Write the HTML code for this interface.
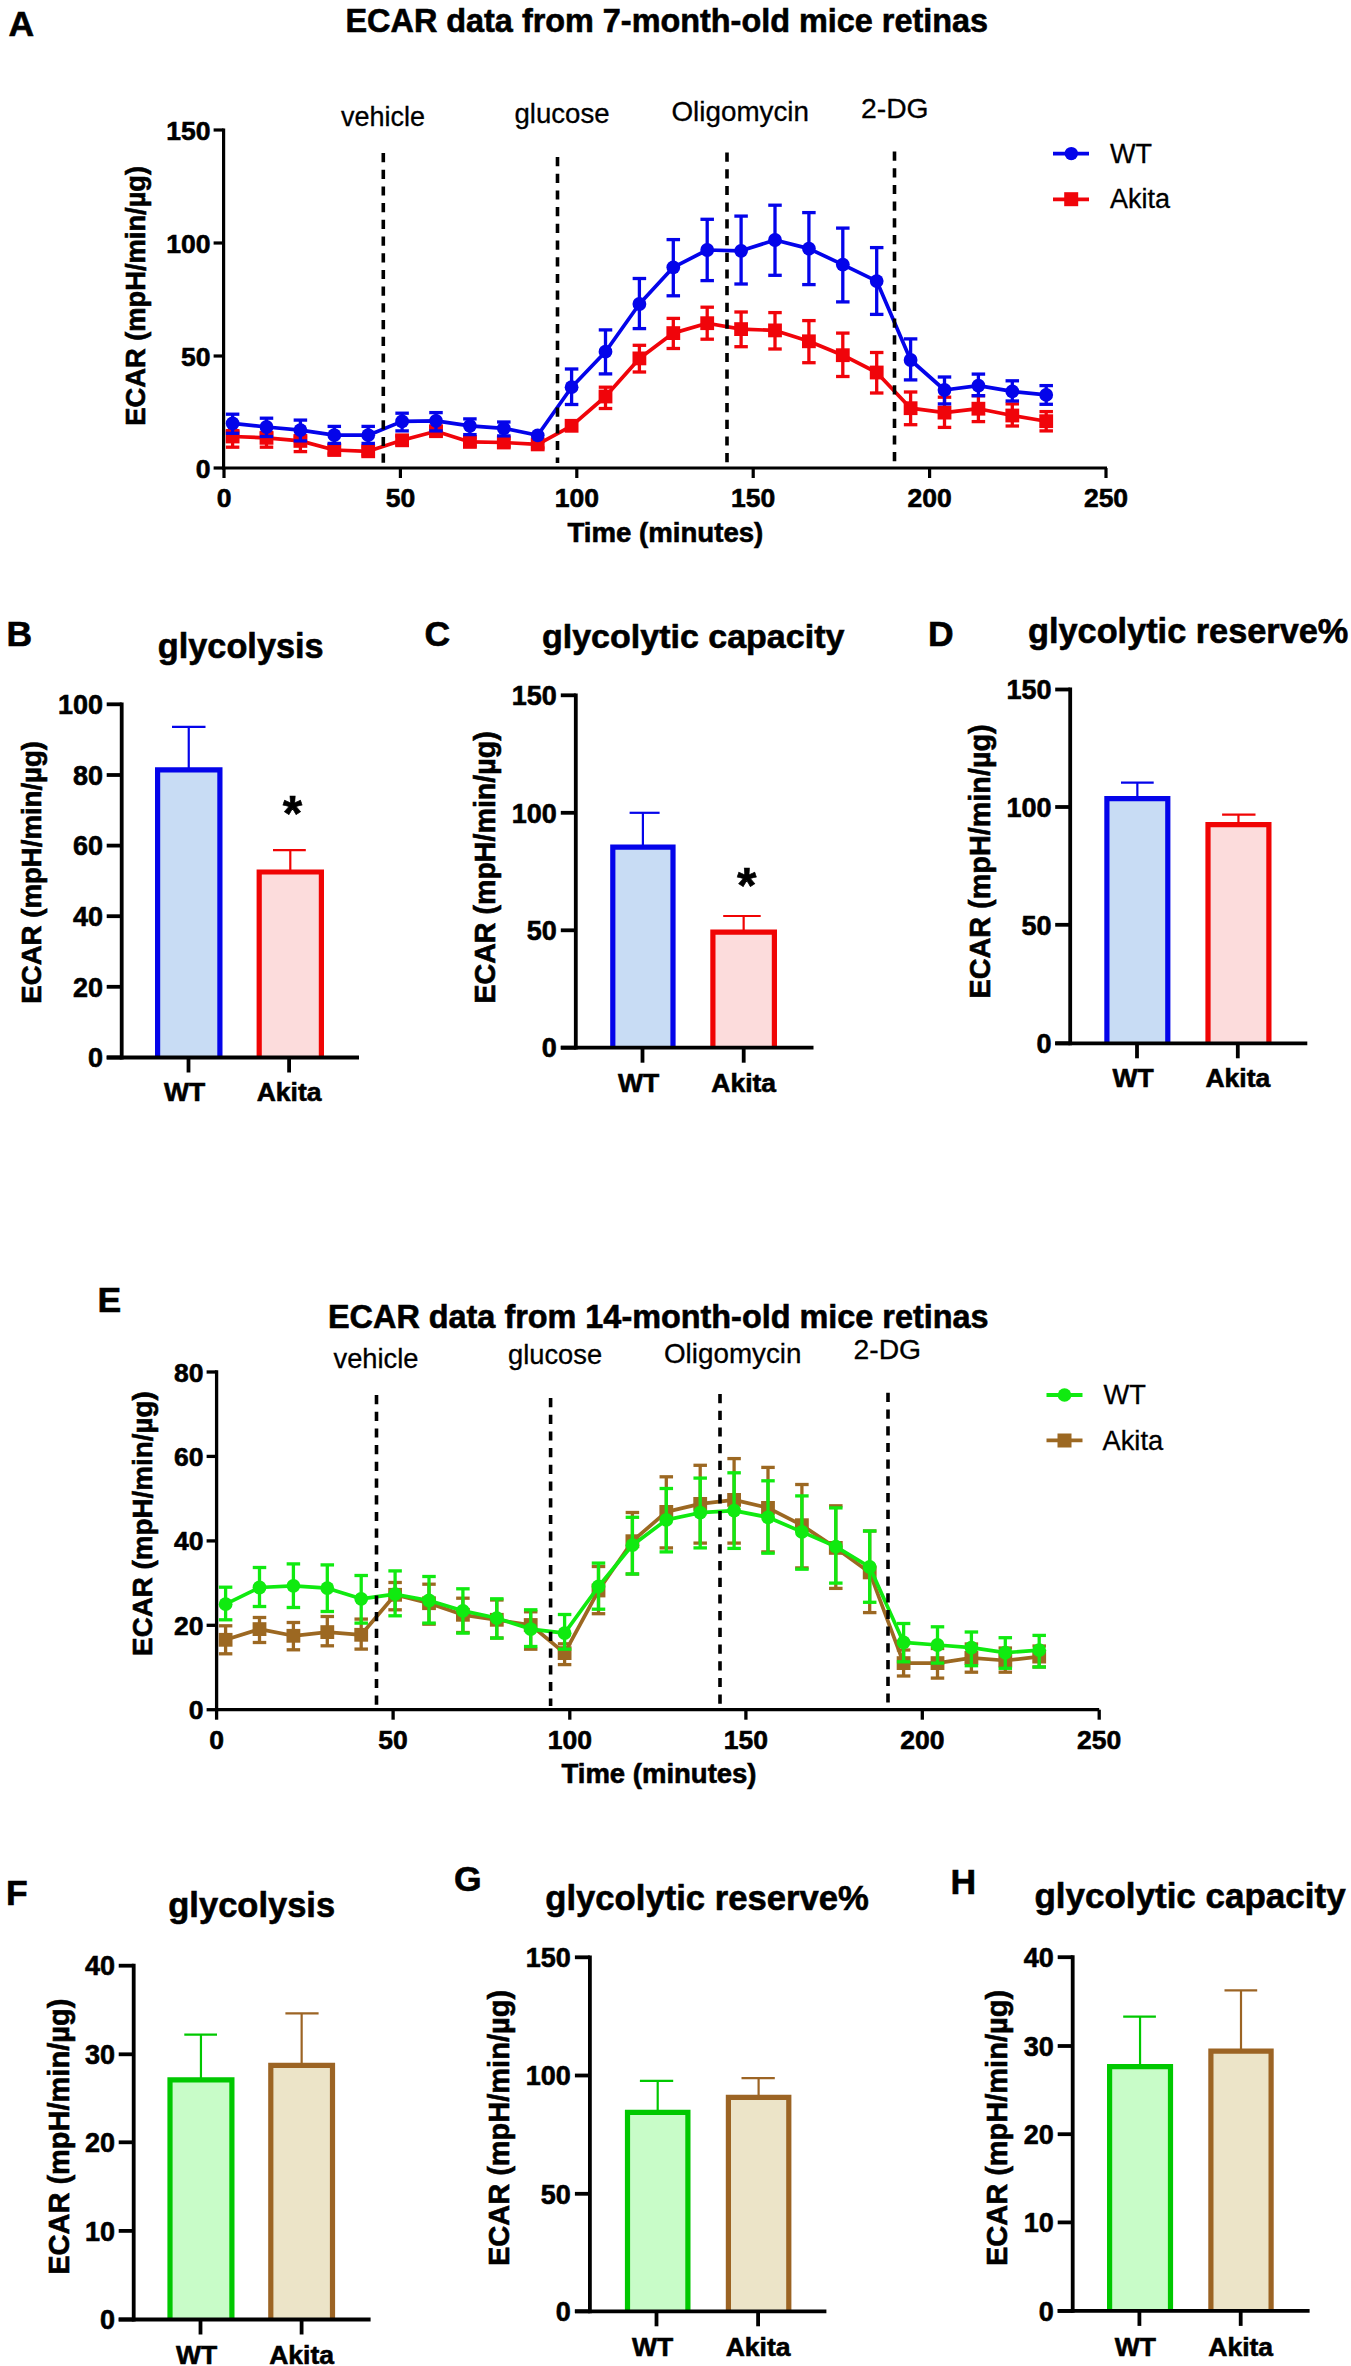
<!DOCTYPE html><html><head><meta charset="utf-8"><style>html,body{margin:0;padding:0;background:#fff;width:1351px;height:2366px;overflow:hidden}svg{display:block}text{font-family:"Liberation Sans",sans-serif}</style></head><body>
<svg width="1351" height="2366" viewBox="0 0 1351 2366">
<rect width="1351" height="2366" fill="#fff"/>
<text x="8.5" y="36" font-size="35.5" font-weight="bold" text-anchor="start" fill="#000" stroke="#000" stroke-width="0.6" >A</text>
<text x="345.5" y="32.3" font-size="32.4" font-weight="bold" text-anchor="start" fill="#000" stroke="#000" stroke-width="0.6" >ECAR data from 7-month-old mice retinas</text>
<line x1="223.6" y1="128.4" x2="223.6" y2="469.6" stroke="#000" stroke-width="3.2" />
<line x1="222.0" y1="468" x2="1107" y2="468" stroke="#000" stroke-width="3.2" />
<line x1="213.6" y1="130" x2="223.6" y2="130" stroke="#000" stroke-width="3.2" />
<line x1="213.6" y1="243" x2="223.6" y2="243" stroke="#000" stroke-width="3.2" />
<line x1="213.6" y1="356" x2="223.6" y2="356" stroke="#000" stroke-width="3.2" />
<line x1="213.6" y1="468" x2="223.6" y2="468" stroke="#000" stroke-width="3.2" />
<line x1="224" y1="468" x2="224" y2="478" stroke="#000" stroke-width="3.2" />
<line x1="400.4" y1="468" x2="400.4" y2="478" stroke="#000" stroke-width="3.2" />
<line x1="576.8" y1="468" x2="576.8" y2="478" stroke="#000" stroke-width="3.2" />
<line x1="753.2" y1="468" x2="753.2" y2="478" stroke="#000" stroke-width="3.2" />
<line x1="929.6" y1="468" x2="929.6" y2="478" stroke="#000" stroke-width="3.2" />
<line x1="1106" y1="468" x2="1106" y2="478" stroke="#000" stroke-width="3.2" />
<text x="210.5" y="139.5" font-size="26.5" font-weight="bold" text-anchor="end" fill="#000" stroke="#000" stroke-width="0.6" >150</text>
<text x="210.5" y="252.5" font-size="26.5" font-weight="bold" text-anchor="end" fill="#000" stroke="#000" stroke-width="0.6" >100</text>
<text x="210.5" y="365.5" font-size="26.5" font-weight="bold" text-anchor="end" fill="#000" stroke="#000" stroke-width="0.6" >50</text>
<text x="210.5" y="477.5" font-size="26.5" font-weight="bold" text-anchor="end" fill="#000" stroke="#000" stroke-width="0.6" >0</text>
<text x="224" y="507" font-size="26.5" font-weight="bold" text-anchor="middle" fill="#000" stroke="#000" stroke-width="0.6" >0</text>
<text x="400.4" y="507" font-size="26.5" font-weight="bold" text-anchor="middle" fill="#000" stroke="#000" stroke-width="0.6" >50</text>
<text x="576.8" y="507" font-size="26.5" font-weight="bold" text-anchor="middle" fill="#000" stroke="#000" stroke-width="0.6" >100</text>
<text x="753.2" y="507" font-size="26.5" font-weight="bold" text-anchor="middle" fill="#000" stroke="#000" stroke-width="0.6" >150</text>
<text x="929.6" y="507" font-size="26.5" font-weight="bold" text-anchor="middle" fill="#000" stroke="#000" stroke-width="0.6" >200</text>
<text x="1106" y="507" font-size="26.5" font-weight="bold" text-anchor="middle" fill="#000" stroke="#000" stroke-width="0.6" >250</text>
<text x="0" y="0" font-size="27.3" font-weight="bold" text-anchor="middle" stroke="#000" stroke-width="0.6" transform="translate(145,295.8) rotate(-90)">ECAR (mpH/min/µg)</text>
<text x="665.4" y="542" font-size="27.6" font-weight="bold" text-anchor="middle" fill="#000" stroke="#000" stroke-width="0.6" >Time (minutes)</text>
<text x="341" y="126" font-size="27" font-weight="normal" text-anchor="start" fill="#000" stroke="#000" stroke-width="0.3" >vehicle</text>
<text x="514.5" y="122.5" font-size="27.6" font-weight="normal" text-anchor="start" fill="#000" stroke="#000" stroke-width="0.3" >glucose</text>
<text x="671.5" y="121.3" font-size="27.8" font-weight="normal" text-anchor="start" fill="#000" stroke="#000" stroke-width="0.3" >Oligomycin</text>
<text x="861" y="117.8" font-size="28.3" font-weight="normal" text-anchor="start" fill="#000" stroke="#000" stroke-width="0.3" >2-DG</text>
<line x1="232.6" y1="430.7" x2="232.6" y2="447.2" stroke="#f0040a" stroke-width="3.3" />
<line x1="225.85" y1="430.7" x2="239.35" y2="430.7" stroke="#f0040a" stroke-width="3.3" />
<line x1="225.85" y1="447.2" x2="239.35" y2="447.2" stroke="#f0040a" stroke-width="3.3" />
<line x1="266.5" y1="433.3" x2="266.5" y2="447.2" stroke="#f0040a" stroke-width="3.3" />
<line x1="259.75" y1="433.3" x2="273.25" y2="433.3" stroke="#f0040a" stroke-width="3.3" />
<line x1="259.75" y1="447.2" x2="273.25" y2="447.2" stroke="#f0040a" stroke-width="3.3" />
<line x1="300.4" y1="437.1" x2="300.4" y2="451.6" stroke="#f0040a" stroke-width="3.3" />
<line x1="293.65" y1="437.1" x2="307.15" y2="437.1" stroke="#f0040a" stroke-width="3.3" />
<line x1="293.65" y1="451.6" x2="307.15" y2="451.6" stroke="#f0040a" stroke-width="3.3" />
<line x1="334.29999999999995" y1="446" x2="334.29999999999995" y2="454" stroke="#f0040a" stroke-width="3.3" />
<line x1="327.54999999999995" y1="446" x2="341.04999999999995" y2="446" stroke="#f0040a" stroke-width="3.3" />
<line x1="327.54999999999995" y1="454" x2="341.04999999999995" y2="454" stroke="#f0040a" stroke-width="3.3" />
<line x1="368.2" y1="447" x2="368.2" y2="455" stroke="#f0040a" stroke-width="3.3" />
<line x1="361.45" y1="447" x2="374.95" y2="447" stroke="#f0040a" stroke-width="3.3" />
<line x1="361.45" y1="455" x2="374.95" y2="455" stroke="#f0040a" stroke-width="3.3" />
<line x1="402.1" y1="436" x2="402.1" y2="444.5" stroke="#f0040a" stroke-width="3.3" />
<line x1="395.35" y1="436" x2="408.85" y2="436" stroke="#f0040a" stroke-width="3.3" />
<line x1="395.35" y1="444.5" x2="408.85" y2="444.5" stroke="#f0040a" stroke-width="3.3" />
<line x1="436.0" y1="427" x2="436.0" y2="435.5" stroke="#f0040a" stroke-width="3.3" />
<line x1="429.25" y1="427" x2="442.75" y2="427" stroke="#f0040a" stroke-width="3.3" />
<line x1="429.25" y1="435.5" x2="442.75" y2="435.5" stroke="#f0040a" stroke-width="3.3" />
<line x1="469.9" y1="438" x2="469.9" y2="446" stroke="#f0040a" stroke-width="3.3" />
<line x1="463.15" y1="438" x2="476.65" y2="438" stroke="#f0040a" stroke-width="3.3" />
<line x1="463.15" y1="446" x2="476.65" y2="446" stroke="#f0040a" stroke-width="3.3" />
<line x1="503.79999999999995" y1="438.5" x2="503.79999999999995" y2="446.5" stroke="#f0040a" stroke-width="3.3" />
<line x1="497.04999999999995" y1="438.5" x2="510.54999999999995" y2="438.5" stroke="#f0040a" stroke-width="3.3" />
<line x1="497.04999999999995" y1="446.5" x2="510.54999999999995" y2="446.5" stroke="#f0040a" stroke-width="3.3" />
<line x1="537.6999999999999" y1="441" x2="537.6999999999999" y2="448" stroke="#f0040a" stroke-width="3.3" />
<line x1="530.9499999999999" y1="441" x2="544.4499999999999" y2="441" stroke="#f0040a" stroke-width="3.3" />
<line x1="530.9499999999999" y1="448" x2="544.4499999999999" y2="448" stroke="#f0040a" stroke-width="3.3" />
<line x1="605.5" y1="387.2" x2="605.5" y2="408.5" stroke="#f0040a" stroke-width="3.3" />
<line x1="598.75" y1="387.2" x2="612.25" y2="387.2" stroke="#f0040a" stroke-width="3.3" />
<line x1="598.75" y1="408.5" x2="612.25" y2="408.5" stroke="#f0040a" stroke-width="3.3" />
<line x1="639.4" y1="345.3" x2="639.4" y2="372" stroke="#f0040a" stroke-width="3.3" />
<line x1="632.65" y1="345.3" x2="646.15" y2="345.3" stroke="#f0040a" stroke-width="3.3" />
<line x1="632.65" y1="372" x2="646.15" y2="372" stroke="#f0040a" stroke-width="3.3" />
<line x1="673.3" y1="318.4" x2="673.3" y2="348.5" stroke="#f0040a" stroke-width="3.3" />
<line x1="666.55" y1="318.4" x2="680.05" y2="318.4" stroke="#f0040a" stroke-width="3.3" />
<line x1="666.55" y1="348.5" x2="680.05" y2="348.5" stroke="#f0040a" stroke-width="3.3" />
<line x1="707.1999999999999" y1="307.2" x2="707.1999999999999" y2="339.2" stroke="#f0040a" stroke-width="3.3" />
<line x1="700.4499999999999" y1="307.2" x2="713.9499999999999" y2="307.2" stroke="#f0040a" stroke-width="3.3" />
<line x1="700.4499999999999" y1="339.2" x2="713.9499999999999" y2="339.2" stroke="#f0040a" stroke-width="3.3" />
<line x1="741.1" y1="312" x2="741.1" y2="346.7" stroke="#f0040a" stroke-width="3.3" />
<line x1="734.35" y1="312" x2="747.85" y2="312" stroke="#f0040a" stroke-width="3.3" />
<line x1="734.35" y1="346.7" x2="747.85" y2="346.7" stroke="#f0040a" stroke-width="3.3" />
<line x1="775.0" y1="312.6" x2="775.0" y2="349" stroke="#f0040a" stroke-width="3.3" />
<line x1="768.25" y1="312.6" x2="781.75" y2="312.6" stroke="#f0040a" stroke-width="3.3" />
<line x1="768.25" y1="349" x2="781.75" y2="349" stroke="#f0040a" stroke-width="3.3" />
<line x1="808.9" y1="320.6" x2="808.9" y2="362.7" stroke="#f0040a" stroke-width="3.3" />
<line x1="802.15" y1="320.6" x2="815.65" y2="320.6" stroke="#f0040a" stroke-width="3.3" />
<line x1="802.15" y1="362.7" x2="815.65" y2="362.7" stroke="#f0040a" stroke-width="3.3" />
<line x1="842.8" y1="333.1" x2="842.8" y2="376.5" stroke="#f0040a" stroke-width="3.3" />
<line x1="836.05" y1="333.1" x2="849.55" y2="333.1" stroke="#f0040a" stroke-width="3.3" />
<line x1="836.05" y1="376.5" x2="849.55" y2="376.5" stroke="#f0040a" stroke-width="3.3" />
<line x1="876.7" y1="352.5" x2="876.7" y2="393" stroke="#f0040a" stroke-width="3.3" />
<line x1="869.95" y1="352.5" x2="883.45" y2="352.5" stroke="#f0040a" stroke-width="3.3" />
<line x1="869.95" y1="393" x2="883.45" y2="393" stroke="#f0040a" stroke-width="3.3" />
<line x1="910.6" y1="392" x2="910.6" y2="424.7" stroke="#f0040a" stroke-width="3.3" />
<line x1="903.85" y1="392" x2="917.35" y2="392" stroke="#f0040a" stroke-width="3.3" />
<line x1="903.85" y1="424.7" x2="917.35" y2="424.7" stroke="#f0040a" stroke-width="3.3" />
<line x1="944.5" y1="397.2" x2="944.5" y2="427.4" stroke="#f0040a" stroke-width="3.3" />
<line x1="937.75" y1="397.2" x2="951.25" y2="397.2" stroke="#f0040a" stroke-width="3.3" />
<line x1="937.75" y1="427.4" x2="951.25" y2="427.4" stroke="#f0040a" stroke-width="3.3" />
<line x1="978.4" y1="395.7" x2="978.4" y2="421.6" stroke="#f0040a" stroke-width="3.3" />
<line x1="971.65" y1="395.7" x2="985.15" y2="395.7" stroke="#f0040a" stroke-width="3.3" />
<line x1="971.65" y1="421.6" x2="985.15" y2="421.6" stroke="#f0040a" stroke-width="3.3" />
<line x1="1012.3" y1="403.9" x2="1012.3" y2="426" stroke="#f0040a" stroke-width="3.3" />
<line x1="1005.55" y1="403.9" x2="1019.05" y2="403.9" stroke="#f0040a" stroke-width="3.3" />
<line x1="1005.55" y1="426" x2="1019.05" y2="426" stroke="#f0040a" stroke-width="3.3" />
<line x1="1046.1999999999998" y1="411.6" x2="1046.1999999999998" y2="430.9" stroke="#f0040a" stroke-width="3.3" />
<line x1="1039.4499999999998" y1="411.6" x2="1052.9499999999998" y2="411.6" stroke="#f0040a" stroke-width="3.3" />
<line x1="1039.4499999999998" y1="430.9" x2="1052.9499999999998" y2="430.9" stroke="#f0040a" stroke-width="3.3" />
<polyline points="232.6,436.5 266.5,437.8 300.4,440.9 334.3,450.0 368.2,451.3 402.1,440.3 436.0,431.2 469.9,441.9 503.8,442.5 537.7,444.4 571.6,425.8 605.5,396.5 639.4,358.4 673.3,333.1 707.2,323.2 741.1,329.1 775.0,330.4 808.9,341.3 842.8,355.2 876.7,372.5 910.6,408.2 944.5,412.6 978.4,408.7 1012.3,415.5 1046.2,421.2" fill="none" stroke="#f0040a" stroke-width="3.7" stroke-linejoin="round"/>
<rect x="225.7" y="429.6" width="13.8" height="13.8" fill="#f0040a"/>
<rect x="259.6" y="430.9" width="13.8" height="13.8" fill="#f0040a"/>
<rect x="293.5" y="434.0" width="13.8" height="13.8" fill="#f0040a"/>
<rect x="327.4" y="443.1" width="13.8" height="13.8" fill="#f0040a"/>
<rect x="361.3" y="444.4" width="13.8" height="13.8" fill="#f0040a"/>
<rect x="395.2" y="433.4" width="13.8" height="13.8" fill="#f0040a"/>
<rect x="429.1" y="424.3" width="13.8" height="13.8" fill="#f0040a"/>
<rect x="463.0" y="435.0" width="13.8" height="13.8" fill="#f0040a"/>
<rect x="496.9" y="435.6" width="13.8" height="13.8" fill="#f0040a"/>
<rect x="530.8" y="437.5" width="13.8" height="13.8" fill="#f0040a"/>
<rect x="564.7" y="418.9" width="13.8" height="13.8" fill="#f0040a"/>
<rect x="598.6" y="389.6" width="13.8" height="13.8" fill="#f0040a"/>
<rect x="632.5" y="351.5" width="13.8" height="13.8" fill="#f0040a"/>
<rect x="666.4" y="326.2" width="13.8" height="13.8" fill="#f0040a"/>
<rect x="700.3" y="316.3" width="13.8" height="13.8" fill="#f0040a"/>
<rect x="734.2" y="322.2" width="13.8" height="13.8" fill="#f0040a"/>
<rect x="768.1" y="323.5" width="13.8" height="13.8" fill="#f0040a"/>
<rect x="802.0" y="334.4" width="13.8" height="13.8" fill="#f0040a"/>
<rect x="835.9" y="348.3" width="13.8" height="13.8" fill="#f0040a"/>
<rect x="869.8" y="365.6" width="13.8" height="13.8" fill="#f0040a"/>
<rect x="903.7" y="401.3" width="13.8" height="13.8" fill="#f0040a"/>
<rect x="937.6" y="405.7" width="13.8" height="13.8" fill="#f0040a"/>
<rect x="971.5" y="401.8" width="13.8" height="13.8" fill="#f0040a"/>
<rect x="1005.4" y="408.6" width="13.8" height="13.8" fill="#f0040a"/>
<rect x="1039.3" y="414.3" width="13.8" height="13.8" fill="#f0040a"/>
<line x1="232.6" y1="414.2" x2="232.6" y2="433.3" stroke="#0404ea" stroke-width="3.3" />
<line x1="225.85" y1="414.2" x2="239.35" y2="414.2" stroke="#0404ea" stroke-width="3.3" />
<line x1="225.85" y1="433.3" x2="239.35" y2="433.3" stroke="#0404ea" stroke-width="3.3" />
<line x1="266.5" y1="418.2" x2="266.5" y2="436.5" stroke="#0404ea" stroke-width="3.3" />
<line x1="259.75" y1="418.2" x2="273.25" y2="418.2" stroke="#0404ea" stroke-width="3.3" />
<line x1="259.75" y1="436.5" x2="273.25" y2="436.5" stroke="#0404ea" stroke-width="3.3" />
<line x1="300.4" y1="420.1" x2="300.4" y2="440.9" stroke="#0404ea" stroke-width="3.3" />
<line x1="293.65" y1="420.1" x2="307.15" y2="420.1" stroke="#0404ea" stroke-width="3.3" />
<line x1="293.65" y1="440.9" x2="307.15" y2="440.9" stroke="#0404ea" stroke-width="3.3" />
<line x1="334.29999999999995" y1="426.4" x2="334.29999999999995" y2="443.4" stroke="#0404ea" stroke-width="3.3" />
<line x1="327.54999999999995" y1="426.4" x2="341.04999999999995" y2="426.4" stroke="#0404ea" stroke-width="3.3" />
<line x1="327.54999999999995" y1="443.4" x2="341.04999999999995" y2="443.4" stroke="#0404ea" stroke-width="3.3" />
<line x1="368.2" y1="426.4" x2="368.2" y2="443.4" stroke="#0404ea" stroke-width="3.3" />
<line x1="361.45" y1="426.4" x2="374.95" y2="426.4" stroke="#0404ea" stroke-width="3.3" />
<line x1="361.45" y1="443.4" x2="374.95" y2="443.4" stroke="#0404ea" stroke-width="3.3" />
<line x1="402.1" y1="413.2" x2="402.1" y2="430.9" stroke="#0404ea" stroke-width="3.3" />
<line x1="395.35" y1="413.2" x2="408.85" y2="413.2" stroke="#0404ea" stroke-width="3.3" />
<line x1="395.35" y1="430.9" x2="408.85" y2="430.9" stroke="#0404ea" stroke-width="3.3" />
<line x1="436.0" y1="412.6" x2="436.0" y2="430.9" stroke="#0404ea" stroke-width="3.3" />
<line x1="429.25" y1="412.6" x2="442.75" y2="412.6" stroke="#0404ea" stroke-width="3.3" />
<line x1="429.25" y1="430.9" x2="442.75" y2="430.9" stroke="#0404ea" stroke-width="3.3" />
<line x1="469.9" y1="418.9" x2="469.9" y2="434.6" stroke="#0404ea" stroke-width="3.3" />
<line x1="463.15" y1="418.9" x2="476.65" y2="418.9" stroke="#0404ea" stroke-width="3.3" />
<line x1="463.15" y1="434.6" x2="476.65" y2="434.6" stroke="#0404ea" stroke-width="3.3" />
<line x1="503.79999999999995" y1="422" x2="503.79999999999995" y2="435.9" stroke="#0404ea" stroke-width="3.3" />
<line x1="497.04999999999995" y1="422" x2="510.54999999999995" y2="422" stroke="#0404ea" stroke-width="3.3" />
<line x1="497.04999999999995" y1="435.9" x2="510.54999999999995" y2="435.9" stroke="#0404ea" stroke-width="3.3" />
<line x1="571.6" y1="369" x2="571.6" y2="404.5" stroke="#0404ea" stroke-width="3.3" />
<line x1="564.85" y1="369" x2="578.35" y2="369" stroke="#0404ea" stroke-width="3.3" />
<line x1="564.85" y1="404.5" x2="578.35" y2="404.5" stroke="#0404ea" stroke-width="3.3" />
<line x1="605.5" y1="329.9" x2="605.5" y2="373.9" stroke="#0404ea" stroke-width="3.3" />
<line x1="598.75" y1="329.9" x2="612.25" y2="329.9" stroke="#0404ea" stroke-width="3.3" />
<line x1="598.75" y1="373.9" x2="612.25" y2="373.9" stroke="#0404ea" stroke-width="3.3" />
<line x1="639.4" y1="278.5" x2="639.4" y2="328.6" stroke="#0404ea" stroke-width="3.3" />
<line x1="632.65" y1="278.5" x2="646.15" y2="278.5" stroke="#0404ea" stroke-width="3.3" />
<line x1="632.65" y1="328.6" x2="646.15" y2="328.6" stroke="#0404ea" stroke-width="3.3" />
<line x1="673.3" y1="239.6" x2="673.3" y2="295.8" stroke="#0404ea" stroke-width="3.3" />
<line x1="666.55" y1="239.6" x2="680.05" y2="239.6" stroke="#0404ea" stroke-width="3.3" />
<line x1="666.55" y1="295.8" x2="680.05" y2="295.8" stroke="#0404ea" stroke-width="3.3" />
<line x1="707.1999999999999" y1="219.3" x2="707.1999999999999" y2="280.6" stroke="#0404ea" stroke-width="3.3" />
<line x1="700.4499999999999" y1="219.3" x2="713.9499999999999" y2="219.3" stroke="#0404ea" stroke-width="3.3" />
<line x1="700.4499999999999" y1="280.6" x2="713.9499999999999" y2="280.6" stroke="#0404ea" stroke-width="3.3" />
<line x1="741.1" y1="216.1" x2="741.1" y2="284" stroke="#0404ea" stroke-width="3.3" />
<line x1="734.35" y1="216.1" x2="747.85" y2="216.1" stroke="#0404ea" stroke-width="3.3" />
<line x1="734.35" y1="284" x2="747.85" y2="284" stroke="#0404ea" stroke-width="3.3" />
<line x1="775.0" y1="205.2" x2="775.0" y2="275.3" stroke="#0404ea" stroke-width="3.3" />
<line x1="768.25" y1="205.2" x2="781.75" y2="205.2" stroke="#0404ea" stroke-width="3.3" />
<line x1="768.25" y1="275.3" x2="781.75" y2="275.3" stroke="#0404ea" stroke-width="3.3" />
<line x1="808.9" y1="212.6" x2="808.9" y2="284.6" stroke="#0404ea" stroke-width="3.3" />
<line x1="802.15" y1="212.6" x2="815.65" y2="212.6" stroke="#0404ea" stroke-width="3.3" />
<line x1="802.15" y1="284.6" x2="815.65" y2="284.6" stroke="#0404ea" stroke-width="3.3" />
<line x1="842.8" y1="228.1" x2="842.8" y2="301.9" stroke="#0404ea" stroke-width="3.3" />
<line x1="836.05" y1="228.1" x2="849.55" y2="228.1" stroke="#0404ea" stroke-width="3.3" />
<line x1="836.05" y1="301.9" x2="849.55" y2="301.9" stroke="#0404ea" stroke-width="3.3" />
<line x1="876.7" y1="247.6" x2="876.7" y2="314.4" stroke="#0404ea" stroke-width="3.3" />
<line x1="869.95" y1="247.6" x2="883.45" y2="247.6" stroke="#0404ea" stroke-width="3.3" />
<line x1="869.95" y1="314.4" x2="883.45" y2="314.4" stroke="#0404ea" stroke-width="3.3" />
<line x1="910.6" y1="338.9" x2="910.6" y2="379.9" stroke="#0404ea" stroke-width="3.3" />
<line x1="903.85" y1="338.9" x2="917.35" y2="338.9" stroke="#0404ea" stroke-width="3.3" />
<line x1="903.85" y1="379.9" x2="917.35" y2="379.9" stroke="#0404ea" stroke-width="3.3" />
<line x1="944.5" y1="377" x2="944.5" y2="403.9" stroke="#0404ea" stroke-width="3.3" />
<line x1="937.75" y1="377" x2="951.25" y2="377" stroke="#0404ea" stroke-width="3.3" />
<line x1="937.75" y1="403.9" x2="951.25" y2="403.9" stroke="#0404ea" stroke-width="3.3" />
<line x1="978.4" y1="374.1" x2="978.4" y2="395.7" stroke="#0404ea" stroke-width="3.3" />
<line x1="971.65" y1="374.1" x2="985.15" y2="374.1" stroke="#0404ea" stroke-width="3.3" />
<line x1="971.65" y1="395.7" x2="985.15" y2="395.7" stroke="#0404ea" stroke-width="3.3" />
<line x1="1012.3" y1="380.8" x2="1012.3" y2="401" stroke="#0404ea" stroke-width="3.3" />
<line x1="1005.55" y1="380.8" x2="1019.05" y2="380.8" stroke="#0404ea" stroke-width="3.3" />
<line x1="1005.55" y1="401" x2="1019.05" y2="401" stroke="#0404ea" stroke-width="3.3" />
<line x1="1046.1999999999998" y1="385.6" x2="1046.1999999999998" y2="404.3" stroke="#0404ea" stroke-width="3.3" />
<line x1="1039.4499999999998" y1="385.6" x2="1052.9499999999998" y2="385.6" stroke="#0404ea" stroke-width="3.3" />
<line x1="1039.4499999999998" y1="404.3" x2="1052.9499999999998" y2="404.3" stroke="#0404ea" stroke-width="3.3" />
<polyline points="232.6,423.3 266.5,427.0 300.4,430.2 334.3,435.2 368.2,435.2 402.1,421.4 436.0,420.8 469.9,425.8 503.8,428.3 537.7,435.3 571.6,387.2 605.5,351.7 639.4,304.0 673.3,267.3 707.2,250.0 741.1,250.8 775.0,240.0 808.9,248.6 842.8,264.6 876.7,281.1 910.6,360.0 944.5,390.0 978.4,385.6 1012.3,391.4 1046.2,394.9" fill="none" stroke="#0404ea" stroke-width="3.7" stroke-linejoin="round"/>
<circle cx="232.6" cy="423.3" r="6.9" fill="#0404ea"/>
<circle cx="266.5" cy="427.0" r="6.9" fill="#0404ea"/>
<circle cx="300.4" cy="430.2" r="6.9" fill="#0404ea"/>
<circle cx="334.3" cy="435.2" r="6.9" fill="#0404ea"/>
<circle cx="368.2" cy="435.2" r="6.9" fill="#0404ea"/>
<circle cx="402.1" cy="421.4" r="6.9" fill="#0404ea"/>
<circle cx="436.0" cy="420.8" r="6.9" fill="#0404ea"/>
<circle cx="469.9" cy="425.8" r="6.9" fill="#0404ea"/>
<circle cx="503.8" cy="428.3" r="6.9" fill="#0404ea"/>
<circle cx="537.7" cy="435.3" r="6.9" fill="#0404ea"/>
<circle cx="571.6" cy="387.2" r="6.9" fill="#0404ea"/>
<circle cx="605.5" cy="351.7" r="6.9" fill="#0404ea"/>
<circle cx="639.4" cy="304.0" r="6.9" fill="#0404ea"/>
<circle cx="673.3" cy="267.3" r="6.9" fill="#0404ea"/>
<circle cx="707.2" cy="250.0" r="6.9" fill="#0404ea"/>
<circle cx="741.1" cy="250.8" r="6.9" fill="#0404ea"/>
<circle cx="775.0" cy="240.0" r="6.9" fill="#0404ea"/>
<circle cx="808.9" cy="248.6" r="6.9" fill="#0404ea"/>
<circle cx="842.8" cy="264.6" r="6.9" fill="#0404ea"/>
<circle cx="876.7" cy="281.1" r="6.9" fill="#0404ea"/>
<circle cx="910.6" cy="360.0" r="6.9" fill="#0404ea"/>
<circle cx="944.5" cy="390.0" r="6.9" fill="#0404ea"/>
<circle cx="978.4" cy="385.6" r="6.9" fill="#0404ea"/>
<circle cx="1012.3" cy="391.4" r="6.9" fill="#0404ea"/>
<circle cx="1046.2" cy="394.9" r="6.9" fill="#0404ea"/>
<line x1="383.3" y1="153" x2="383.3" y2="463" stroke="#000" stroke-width="3.6" stroke-dasharray="9.2 7.5"/>
<line x1="557.5" y1="157" x2="557.5" y2="463" stroke="#000" stroke-width="3.6" stroke-dasharray="9.2 7.5"/>
<line x1="727" y1="152.5" x2="727" y2="463" stroke="#000" stroke-width="3.6" stroke-dasharray="9.2 7.5"/>
<line x1="894.5" y1="151.5" x2="894.5" y2="463" stroke="#000" stroke-width="3.6" stroke-dasharray="9.2 7.5"/>
<line x1="1053" y1="153.6" x2="1089" y2="153.6" stroke="#0404ea" stroke-width="3.8" />
<circle cx="1071.3" cy="153.6" r="6.7" fill="#0404ea"/>
<line x1="1053" y1="199.4" x2="1089" y2="199.4" stroke="#f0040a" stroke-width="3.8" />
<rect x="1064.2" y="192.2" width="14" height="14" fill="#f0040a"/>
<text x="1110" y="162.5" font-size="27" font-weight="normal" text-anchor="start" fill="#000" stroke="#000" stroke-width="0.3" >WT</text>
<text x="1110" y="208" font-size="27" font-weight="normal" text-anchor="start" fill="#000" stroke="#000" stroke-width="0.3" >Akita</text>
<text x="6.5" y="645.8" font-size="35.5" font-weight="bold" text-anchor="start" fill="#000" stroke="#000" stroke-width="0.6" >B</text>
<text x="157.8" y="657.7" font-size="34.3" font-weight="bold" text-anchor="start" fill="#000" stroke="#000" stroke-width="0.6" >glycolysis</text>
<text x="103.1" y="714.02" font-size="27" font-weight="bold" text-anchor="end" fill="#000" stroke="#000" stroke-width="0.6" >100</text>
<text x="103.1" y="784.72" font-size="27" font-weight="bold" text-anchor="end" fill="#000" stroke="#000" stroke-width="0.6" >80</text>
<text x="103.1" y="855.32" font-size="27" font-weight="bold" text-anchor="end" fill="#000" stroke="#000" stroke-width="0.6" >60</text>
<text x="103.1" y="925.9200000000001" font-size="27" font-weight="bold" text-anchor="end" fill="#000" stroke="#000" stroke-width="0.6" >40</text>
<text x="103.1" y="996.52" font-size="27" font-weight="bold" text-anchor="end" fill="#000" stroke="#000" stroke-width="0.6" >20</text>
<text x="103.1" y="1067.22" font-size="27" font-weight="bold" text-anchor="end" fill="#000" stroke="#000" stroke-width="0.6" >0</text>
<text x="0" y="0" font-size="27.6" font-weight="bold" text-anchor="middle" stroke="#000" stroke-width="0.6" transform="translate(41.1,872.3) rotate(-90)">ECAR (mpH/min/µg)</text>
<rect x="157.6" y="769.8" width="62.3" height="287.7" fill="#c8dcf4"/>
<path d="M157.6,1057.5 L157.6,769.8 L219.9,769.8 L219.9,1057.5" fill="none" stroke="#0404ea" stroke-width="5.2" stroke-linejoin="miter"/>
<line x1="188.75" y1="726.8" x2="188.75" y2="769.2" stroke="#0404ea" stroke-width="2.2" />
<line x1="172" y1="726.8" x2="205.5" y2="726.8" stroke="#0404ea" stroke-width="2.2" />
<rect x="259.2" y="872.0" width="62.2" height="185.5" fill="#fcdcdc"/>
<path d="M259.2,1057.5 L259.2,872.0 L321.4,872.0 L321.4,1057.5" fill="none" stroke="#f00404" stroke-width="5.2" stroke-linejoin="miter"/>
<line x1="290.3" y1="850.2" x2="290.3" y2="871.4" stroke="#f00404" stroke-width="2.2" />
<line x1="273" y1="850.2" x2="305.8" y2="850.2" stroke="#f00404" stroke-width="2.2" />
<line x1="121.7" y1="702.4" x2="121.7" y2="1059.4" stroke="#000" stroke-width="3.8" />
<line x1="106.7" y1="1057.5" x2="359" y2="1057.5" stroke="#000" stroke-width="3.8" />
<line x1="106.7" y1="704.3" x2="121.7" y2="704.3" stroke="#000" stroke-width="3.8" />
<line x1="106.7" y1="775" x2="121.7" y2="775" stroke="#000" stroke-width="3.8" />
<line x1="106.7" y1="845.6" x2="121.7" y2="845.6" stroke="#000" stroke-width="3.8" />
<line x1="106.7" y1="916.2" x2="121.7" y2="916.2" stroke="#000" stroke-width="3.8" />
<line x1="106.7" y1="986.8" x2="121.7" y2="986.8" stroke="#000" stroke-width="3.8" />
<line x1="106.7" y1="1057.5" x2="121.7" y2="1057.5" stroke="#000" stroke-width="3.8" />
<line x1="188.5" y1="1057.5" x2="188.5" y2="1072.5" stroke="#000" stroke-width="3.8" />
<line x1="289.1" y1="1057.5" x2="289.1" y2="1072.5" stroke="#000" stroke-width="3.8" />
<text x="292.6" y="831" font-size="50" font-weight="bold" text-anchor="middle" fill="#000" stroke="#000" stroke-width="0.6" >*</text>
<text x="184.5" y="1101" font-size="26.5" font-weight="bold" text-anchor="middle" fill="#000" stroke="#000" stroke-width="0.6" >WT</text>
<text x="289.1" y="1101" font-size="26.5" font-weight="bold" text-anchor="middle" fill="#000" stroke="#000" stroke-width="0.6" >Akita</text>
<text x="424.5" y="646.3" font-size="35.5" font-weight="bold" text-anchor="start" fill="#000" stroke="#000" stroke-width="0.6" >C</text>
<text x="542" y="648" font-size="34" font-weight="bold" text-anchor="start" fill="#000" stroke="#000" stroke-width="0.6" >glycolytic capacity</text>
<text x="556.8" y="705.02" font-size="27" font-weight="bold" text-anchor="end" fill="#000" stroke="#000" stroke-width="0.6" >150</text>
<text x="556.8" y="822.52" font-size="27" font-weight="bold" text-anchor="end" fill="#000" stroke="#000" stroke-width="0.6" >100</text>
<text x="556.8" y="940.02" font-size="27" font-weight="bold" text-anchor="end" fill="#000" stroke="#000" stroke-width="0.6" >50</text>
<text x="556.8" y="1057.42" font-size="27" font-weight="bold" text-anchor="end" fill="#000" stroke="#000" stroke-width="0.6" >0</text>
<text x="0" y="0" font-size="28.6" font-weight="bold" text-anchor="middle" stroke="#000" stroke-width="0.6" transform="translate(495.4,867.4) rotate(-90)">ECAR (mpH/min/µg)</text>
<rect x="612.8" y="847.1" width="60.2" height="200.6" fill="#c8dcf4"/>
<path d="M612.8,1047.7 L612.8,847.1 L673.0,847.1 L673.0,1047.7" fill="none" stroke="#0404ea" stroke-width="5.2" stroke-linejoin="miter"/>
<line x1="642.9000000000001" y1="812.8" x2="642.9000000000001" y2="846.5" stroke="#0404ea" stroke-width="2.2" />
<line x1="629.6" y1="812.8" x2="659.6" y2="812.8" stroke="#0404ea" stroke-width="2.2" />
<rect x="712.9" y="932.2" width="61.5" height="115.5" fill="#fcdcdc"/>
<path d="M712.9,1047.7 L712.9,932.2 L774.4,932.2 L774.4,1047.7" fill="none" stroke="#f00404" stroke-width="5.2" stroke-linejoin="miter"/>
<line x1="743.65" y1="916" x2="743.65" y2="931.6" stroke="#f00404" stroke-width="2.2" />
<line x1="723.2" y1="916" x2="760.7" y2="916" stroke="#f00404" stroke-width="2.2" />
<line x1="575.8" y1="693.4" x2="575.8" y2="1049.6000000000001" stroke="#000" stroke-width="3.8" />
<line x1="560.8" y1="1047.7" x2="813.5" y2="1047.7" stroke="#000" stroke-width="3.8" />
<line x1="560.8" y1="695.3" x2="575.8" y2="695.3" stroke="#000" stroke-width="3.8" />
<line x1="560.8" y1="812.8" x2="575.8" y2="812.8" stroke="#000" stroke-width="3.8" />
<line x1="560.8" y1="930.3" x2="575.8" y2="930.3" stroke="#000" stroke-width="3.8" />
<line x1="560.8" y1="1047.7" x2="575.8" y2="1047.7" stroke="#000" stroke-width="3.8" />
<line x1="642.5" y1="1047.7" x2="642.5" y2="1062.7" stroke="#000" stroke-width="3.8" />
<line x1="743.7" y1="1047.7" x2="743.7" y2="1062.7" stroke="#000" stroke-width="3.8" />
<text x="746.8" y="903" font-size="50" font-weight="bold" text-anchor="middle" fill="#000" stroke="#000" stroke-width="0.6" >*</text>
<text x="638.5" y="1092" font-size="26.5" font-weight="bold" text-anchor="middle" fill="#000" stroke="#000" stroke-width="0.6" >WT</text>
<text x="743.7" y="1092" font-size="26.5" font-weight="bold" text-anchor="middle" fill="#000" stroke="#000" stroke-width="0.6" >Akita</text>
<text x="928" y="645.7" font-size="35.5" font-weight="bold" text-anchor="start" fill="#000" stroke="#000" stroke-width="0.6" >D</text>
<text x="1028" y="643.1" font-size="34.3" font-weight="bold" text-anchor="start" fill="#000" stroke="#000" stroke-width="0.6" >glycolytic reserve%</text>
<text x="1051.5" y="699.22" font-size="27" font-weight="bold" text-anchor="end" fill="#000" stroke="#000" stroke-width="0.6" >150</text>
<text x="1051.5" y="816.72" font-size="27" font-weight="bold" text-anchor="end" fill="#000" stroke="#000" stroke-width="0.6" >100</text>
<text x="1051.5" y="934.52" font-size="27" font-weight="bold" text-anchor="end" fill="#000" stroke="#000" stroke-width="0.6" >50</text>
<text x="1051.5" y="1053.02" font-size="27" font-weight="bold" text-anchor="end" fill="#000" stroke="#000" stroke-width="0.6" >0</text>
<text x="0" y="0" font-size="28.8" font-weight="bold" text-anchor="middle" stroke="#000" stroke-width="0.6" transform="translate(989.8,861.4) rotate(-90)">ECAR (mpH/min/µg)</text>
<rect x="1106.9" y="798.6" width="60.9" height="244.7" fill="#c8dcf4"/>
<path d="M1106.9,1043.3 L1106.9,798.6 L1167.8,798.6 L1167.8,1043.3" fill="none" stroke="#0404ea" stroke-width="5.2" stroke-linejoin="miter"/>
<line x1="1137.35" y1="782.6" x2="1137.35" y2="798" stroke="#0404ea" stroke-width="2.2" />
<line x1="1121" y1="782.6" x2="1153.7" y2="782.6" stroke="#0404ea" stroke-width="2.2" />
<rect x="1208.0" y="824.6" width="60.9" height="218.7" fill="#fcdcdc"/>
<path d="M1208.0,1043.3 L1208.0,824.6 L1268.9,824.6 L1268.9,1043.3" fill="none" stroke="#f00404" stroke-width="5.2" stroke-linejoin="miter"/>
<line x1="1238.45" y1="814.6" x2="1238.45" y2="824" stroke="#f00404" stroke-width="2.2" />
<line x1="1222.1" y1="814.6" x2="1255.5" y2="814.6" stroke="#f00404" stroke-width="2.2" />
<line x1="1070.2" y1="687.6" x2="1070.2" y2="1045.2" stroke="#000" stroke-width="3.8" />
<line x1="1055.2" y1="1043.3" x2="1307.3" y2="1043.3" stroke="#000" stroke-width="3.8" />
<line x1="1055.2" y1="689.5" x2="1070.2" y2="689.5" stroke="#000" stroke-width="3.8" />
<line x1="1055.2" y1="807" x2="1070.2" y2="807" stroke="#000" stroke-width="3.8" />
<line x1="1055.2" y1="924.8" x2="1070.2" y2="924.8" stroke="#000" stroke-width="3.8" />
<line x1="1055.2" y1="1043.3" x2="1070.2" y2="1043.3" stroke="#000" stroke-width="3.8" />
<line x1="1137" y1="1043.3" x2="1137" y2="1058.3" stroke="#000" stroke-width="3.8" />
<line x1="1237.8" y1="1043.3" x2="1237.8" y2="1058.3" stroke="#000" stroke-width="3.8" />
<text x="1133" y="1086.7" font-size="26.5" font-weight="bold" text-anchor="middle" fill="#000" stroke="#000" stroke-width="0.6" >WT</text>
<text x="1237.8" y="1086.7" font-size="26.5" font-weight="bold" text-anchor="middle" fill="#000" stroke="#000" stroke-width="0.6" >Akita</text>
<text x="6" y="1904.5" font-size="35.5" font-weight="bold" text-anchor="start" fill="#000" stroke="#000" stroke-width="0.6" >F</text>
<text x="168.3" y="1917" font-size="34.5" font-weight="bold" text-anchor="start" fill="#000" stroke="#000" stroke-width="0.6" >glycolysis</text>
<text x="115" y="1975.42" font-size="27" font-weight="bold" text-anchor="end" fill="#000" stroke="#000" stroke-width="0.6" >40</text>
<text x="115" y="2064.02" font-size="27" font-weight="bold" text-anchor="end" fill="#000" stroke="#000" stroke-width="0.6" >30</text>
<text x="115" y="2152.02" font-size="27" font-weight="bold" text-anchor="end" fill="#000" stroke="#000" stroke-width="0.6" >20</text>
<text x="115" y="2240.62" font-size="27" font-weight="bold" text-anchor="end" fill="#000" stroke="#000" stroke-width="0.6" >10</text>
<text x="115" y="2329.22" font-size="27" font-weight="bold" text-anchor="end" fill="#000" stroke="#000" stroke-width="0.6" >0</text>
<text x="0" y="0" font-size="29" font-weight="bold" text-anchor="middle" stroke="#000" stroke-width="0.6" transform="translate(68.6,2136.75) rotate(-90)">ECAR (mpH/min/µg)</text>
<rect x="170.0" y="2079.9" width="61.9" height="239.6" fill="#c8fcc8"/>
<path d="M170.0,2319.5 L170.0,2079.9 L231.9,2079.9 L231.9,2319.5" fill="none" stroke="#00c800" stroke-width="5.2" stroke-linejoin="miter"/>
<line x1="200.95" y1="2034.7" x2="200.95" y2="2079.3" stroke="#00c800" stroke-width="2.2" />
<line x1="184.3" y1="2034.7" x2="217" y2="2034.7" stroke="#00c800" stroke-width="2.2" />
<rect x="270.8" y="2065.3" width="61.7" height="254.2" fill="#ece4c8"/>
<path d="M270.8,2319.5 L270.8,2065.3 L332.5,2065.3 L332.5,2319.5" fill="none" stroke="#9c6424" stroke-width="5.2" stroke-linejoin="miter"/>
<line x1="301.65" y1="2013.3" x2="301.65" y2="2064.7" stroke="#9c6424" stroke-width="2.2" />
<line x1="285.4" y1="2013.3" x2="318.6" y2="2013.3" stroke="#9c6424" stroke-width="2.2" />
<line x1="133.7" y1="1963.8" x2="133.7" y2="2321.4" stroke="#000" stroke-width="3.8" />
<line x1="118.69999999999999" y1="2319.5" x2="370.6" y2="2319.5" stroke="#000" stroke-width="3.8" />
<line x1="118.69999999999999" y1="1965.7" x2="133.7" y2="1965.7" stroke="#000" stroke-width="3.8" />
<line x1="118.69999999999999" y1="2054.3" x2="133.7" y2="2054.3" stroke="#000" stroke-width="3.8" />
<line x1="118.69999999999999" y1="2142.3" x2="133.7" y2="2142.3" stroke="#000" stroke-width="3.8" />
<line x1="118.69999999999999" y1="2230.9" x2="133.7" y2="2230.9" stroke="#000" stroke-width="3.8" />
<line x1="118.69999999999999" y1="2319.5" x2="133.7" y2="2319.5" stroke="#000" stroke-width="3.8" />
<line x1="200.5" y1="2319.5" x2="200.5" y2="2334.5" stroke="#000" stroke-width="3.8" />
<line x1="301.6" y1="2319.5" x2="301.6" y2="2334.5" stroke="#000" stroke-width="3.8" />
<text x="196.5" y="2363.6" font-size="26.5" font-weight="bold" text-anchor="middle" fill="#000" stroke="#000" stroke-width="0.6" >WT</text>
<text x="301.6" y="2363.6" font-size="26.5" font-weight="bold" text-anchor="middle" fill="#000" stroke="#000" stroke-width="0.6" >Akita</text>
<text x="454" y="1890.6" font-size="35.5" font-weight="bold" text-anchor="start" fill="#000" stroke="#000" stroke-width="0.6" >G</text>
<text x="545.3" y="1910" font-size="34.65" font-weight="bold" text-anchor="start" fill="#000" stroke="#000" stroke-width="0.6" >glycolytic reserve%</text>
<text x="570.9" y="1967.02" font-size="27" font-weight="bold" text-anchor="end" fill="#000" stroke="#000" stroke-width="0.6" >150</text>
<text x="570.9" y="2085.22" font-size="27" font-weight="bold" text-anchor="end" fill="#000" stroke="#000" stroke-width="0.6" >100</text>
<text x="570.9" y="2203.52" font-size="27" font-weight="bold" text-anchor="end" fill="#000" stroke="#000" stroke-width="0.6" >50</text>
<text x="570.9" y="2321.02" font-size="27" font-weight="bold" text-anchor="end" fill="#000" stroke="#000" stroke-width="0.6" >0</text>
<text x="0" y="0" font-size="29" font-weight="bold" text-anchor="middle" stroke="#000" stroke-width="0.6" transform="translate(508.6,2128) rotate(-90)">ECAR (mpH/min/µg)</text>
<rect x="627.5" y="2112.4" width="60.4" height="198.9" fill="#c8fcc8"/>
<path d="M627.5,2311.3 L627.5,2112.4 L687.9,2112.4 L687.9,2311.3" fill="none" stroke="#00c800" stroke-width="5.2" stroke-linejoin="miter"/>
<line x1="657.7" y1="2080.8" x2="657.7" y2="2111.8" stroke="#00c800" stroke-width="2.2" />
<line x1="639.9" y1="2080.8" x2="673.2" y2="2080.8" stroke="#00c800" stroke-width="2.2" />
<rect x="728.4" y="2097.4" width="60.4" height="213.9" fill="#ece4c8"/>
<path d="M728.4,2311.3 L728.4,2097.4 L788.8,2097.4 L788.8,2311.3" fill="none" stroke="#9c6424" stroke-width="5.2" stroke-linejoin="miter"/>
<line x1="758.5999999999999" y1="2078.2" x2="758.5999999999999" y2="2096.8" stroke="#9c6424" stroke-width="2.2" />
<line x1="741.5" y1="2078.2" x2="774.8" y2="2078.2" stroke="#9c6424" stroke-width="2.2" />
<line x1="589.9" y1="1955.3999999999999" x2="589.9" y2="2313.2000000000003" stroke="#000" stroke-width="3.8" />
<line x1="574.9" y1="2311.3" x2="826.4" y2="2311.3" stroke="#000" stroke-width="3.8" />
<line x1="574.9" y1="1957.3" x2="589.9" y2="1957.3" stroke="#000" stroke-width="3.8" />
<line x1="574.9" y1="2075.5" x2="589.9" y2="2075.5" stroke="#000" stroke-width="3.8" />
<line x1="574.9" y1="2193.8" x2="589.9" y2="2193.8" stroke="#000" stroke-width="3.8" />
<line x1="574.9" y1="2311.3" x2="589.9" y2="2311.3" stroke="#000" stroke-width="3.8" />
<line x1="656.5" y1="2311.3" x2="656.5" y2="2326.3" stroke="#000" stroke-width="3.8" />
<line x1="758.1" y1="2311.3" x2="758.1" y2="2326.3" stroke="#000" stroke-width="3.8" />
<text x="652.5" y="2356.3" font-size="26.5" font-weight="bold" text-anchor="middle" fill="#000" stroke="#000" stroke-width="0.6" >WT</text>
<text x="758.1" y="2356.3" font-size="26.5" font-weight="bold" text-anchor="middle" fill="#000" stroke="#000" stroke-width="0.6" >Akita</text>
<text x="950.5" y="1894.3" font-size="35.5" font-weight="bold" text-anchor="start" fill="#000" stroke="#000" stroke-width="0.6" >H</text>
<text x="1034.4" y="1908.1" font-size="35" font-weight="bold" text-anchor="start" fill="#000" stroke="#000" stroke-width="0.6" >glycolytic capacity</text>
<text x="1053.9" y="1966.92" font-size="27" font-weight="bold" text-anchor="end" fill="#000" stroke="#000" stroke-width="0.6" >40</text>
<text x="1053.9" y="2055.72" font-size="27" font-weight="bold" text-anchor="end" fill="#000" stroke="#000" stroke-width="0.6" >30</text>
<text x="1053.9" y="2143.9199999999996" font-size="27" font-weight="bold" text-anchor="end" fill="#000" stroke="#000" stroke-width="0.6" >20</text>
<text x="1053.9" y="2232.12" font-size="27" font-weight="bold" text-anchor="end" fill="#000" stroke="#000" stroke-width="0.6" >10</text>
<text x="1053.9" y="2320.62" font-size="27" font-weight="bold" text-anchor="end" fill="#000" stroke="#000" stroke-width="0.6" >0</text>
<text x="0" y="0" font-size="29" font-weight="bold" text-anchor="middle" stroke="#000" stroke-width="0.6" transform="translate(1006.7,2128) rotate(-90)">ECAR (mpH/min/µg)</text>
<rect x="1109.6" y="2066.7" width="60.9" height="244.2" fill="#c8fcc8"/>
<path d="M1109.6,2310.9 L1109.6,2066.7 L1170.5,2066.7 L1170.5,2310.9" fill="none" stroke="#00c800" stroke-width="5.2" stroke-linejoin="miter"/>
<line x1="1140.05" y1="2016.7" x2="1140.05" y2="2066.1" stroke="#00c800" stroke-width="2.2" />
<line x1="1123.2" y1="2016.7" x2="1155.9" y2="2016.7" stroke="#00c800" stroke-width="2.2" />
<rect x="1210.9" y="2051.1" width="60.2" height="259.8" fill="#ece4c8"/>
<path d="M1210.9,2310.9 L1210.9,2051.1 L1271.1,2051.1 L1271.1,2310.9" fill="none" stroke="#9c6424" stroke-width="5.2" stroke-linejoin="miter"/>
<line x1="1241.0" y1="1990.3" x2="1241.0" y2="2050.5" stroke="#9c6424" stroke-width="2.2" />
<line x1="1224.5" y1="1990.3" x2="1257.2" y2="1990.3" stroke="#9c6424" stroke-width="2.2" />
<line x1="1072.7" y1="1955.3" x2="1072.7" y2="2312.8" stroke="#000" stroke-width="3.8" />
<line x1="1057.7" y1="2310.9" x2="1309.6" y2="2310.9" stroke="#000" stroke-width="3.8" />
<line x1="1057.7" y1="1957.2" x2="1072.7" y2="1957.2" stroke="#000" stroke-width="3.8" />
<line x1="1057.7" y1="2046" x2="1072.7" y2="2046" stroke="#000" stroke-width="3.8" />
<line x1="1057.7" y1="2134.2" x2="1072.7" y2="2134.2" stroke="#000" stroke-width="3.8" />
<line x1="1057.7" y1="2222.4" x2="1072.7" y2="2222.4" stroke="#000" stroke-width="3.8" />
<line x1="1057.7" y1="2310.9" x2="1072.7" y2="2310.9" stroke="#000" stroke-width="3.8" />
<line x1="1139.4" y1="2310.9" x2="1139.4" y2="2325.9" stroke="#000" stroke-width="3.8" />
<line x1="1240.7" y1="2310.9" x2="1240.7" y2="2325.9" stroke="#000" stroke-width="3.8" />
<text x="1135.4" y="2355.5" font-size="26.5" font-weight="bold" text-anchor="middle" fill="#000" stroke="#000" stroke-width="0.6" >WT</text>
<text x="1240.7" y="2355.5" font-size="26.5" font-weight="bold" text-anchor="middle" fill="#000" stroke="#000" stroke-width="0.6" >Akita</text>
<text x="97.5" y="1311.6" font-size="35.5" font-weight="bold" text-anchor="start" fill="#000" stroke="#000" stroke-width="0.6" >E</text>
<text x="328" y="1327.8" font-size="32.4" font-weight="bold" text-anchor="start" fill="#000" stroke="#000" stroke-width="0.6" >ECAR data from 14-month-old mice retinas</text>
<line x1="216.6" y1="1370.35" x2="216.6" y2="1711.3500000000001" stroke="#000" stroke-width="3.3" />
<line x1="214.95" y1="1709.7" x2="1099.2" y2="1709.7" stroke="#000" stroke-width="3.3" />
<line x1="206.6" y1="1372" x2="216.6" y2="1372" stroke="#000" stroke-width="3.3" />
<line x1="206.6" y1="1456.4" x2="216.6" y2="1456.4" stroke="#000" stroke-width="3.3" />
<line x1="206.6" y1="1540.9" x2="216.6" y2="1540.9" stroke="#000" stroke-width="3.3" />
<line x1="206.6" y1="1625.3" x2="216.6" y2="1625.3" stroke="#000" stroke-width="3.3" />
<line x1="206.6" y1="1709.7" x2="216.6" y2="1709.7" stroke="#000" stroke-width="3.3" />
<line x1="216.6" y1="1709.7" x2="216.6" y2="1719.7" stroke="#000" stroke-width="3.3" />
<line x1="393.1" y1="1709.7" x2="393.1" y2="1719.7" stroke="#000" stroke-width="3.3" />
<line x1="569.8" y1="1709.7" x2="569.8" y2="1719.7" stroke="#000" stroke-width="3.3" />
<line x1="745.9" y1="1709.7" x2="745.9" y2="1719.7" stroke="#000" stroke-width="3.3" />
<line x1="922.3" y1="1709.7" x2="922.3" y2="1719.7" stroke="#000" stroke-width="3.3" />
<line x1="1099.2" y1="1709.7" x2="1099.2" y2="1719.7" stroke="#000" stroke-width="3.3" />
<text x="203.5" y="1381.5" font-size="26.5" font-weight="bold" text-anchor="end" fill="#000" stroke="#000" stroke-width="0.6" >80</text>
<text x="203.5" y="1465.9" font-size="26.5" font-weight="bold" text-anchor="end" fill="#000" stroke="#000" stroke-width="0.6" >60</text>
<text x="203.5" y="1550.4" font-size="26.5" font-weight="bold" text-anchor="end" fill="#000" stroke="#000" stroke-width="0.6" >40</text>
<text x="203.5" y="1634.8" font-size="26.5" font-weight="bold" text-anchor="end" fill="#000" stroke="#000" stroke-width="0.6" >20</text>
<text x="203.5" y="1719.2" font-size="26.5" font-weight="bold" text-anchor="end" fill="#000" stroke="#000" stroke-width="0.6" >0</text>
<text x="216.6" y="1749" font-size="26.5" font-weight="bold" text-anchor="middle" fill="#000" stroke="#000" stroke-width="0.6" >0</text>
<text x="393.1" y="1749" font-size="26.5" font-weight="bold" text-anchor="middle" fill="#000" stroke="#000" stroke-width="0.6" >50</text>
<text x="569.8" y="1749" font-size="26.5" font-weight="bold" text-anchor="middle" fill="#000" stroke="#000" stroke-width="0.6" >100</text>
<text x="745.9" y="1749" font-size="26.5" font-weight="bold" text-anchor="middle" fill="#000" stroke="#000" stroke-width="0.6" >150</text>
<text x="922.3" y="1749" font-size="26.5" font-weight="bold" text-anchor="middle" fill="#000" stroke="#000" stroke-width="0.6" >200</text>
<text x="1099.2" y="1749" font-size="26.5" font-weight="bold" text-anchor="middle" fill="#000" stroke="#000" stroke-width="0.6" >250</text>
<text x="0" y="0" font-size="27.8" font-weight="bold" text-anchor="middle" stroke="#000" stroke-width="0.6" transform="translate(151.7,1523.6) rotate(-90)">ECAR (mpH/min/µg)</text>
<text x="659" y="1782.5" font-size="27.5" font-weight="bold" text-anchor="middle" fill="#000" stroke="#000" stroke-width="0.6" >Time (minutes)</text>
<text x="333.5" y="1367.6" font-size="27.3" font-weight="normal" text-anchor="start" fill="#000" stroke="#000" stroke-width="0.3" >vehicle</text>
<text x="508" y="1364.4" font-size="27.3" font-weight="normal" text-anchor="start" fill="#000" stroke="#000" stroke-width="0.3" >glucose</text>
<text x="664" y="1363" font-size="27.8" font-weight="normal" text-anchor="start" fill="#000" stroke="#000" stroke-width="0.3" >Oligomycin</text>
<text x="853.5" y="1358.5" font-size="28.3" font-weight="normal" text-anchor="start" fill="#000" stroke="#000" stroke-width="0.3" >2-DG</text>
<line x1="225.6" y1="1625.8" x2="225.6" y2="1653.8" stroke="#9c6822" stroke-width="3.3" />
<line x1="218.85" y1="1625.8" x2="232.35" y2="1625.8" stroke="#9c6822" stroke-width="3.3" />
<line x1="218.85" y1="1653.8" x2="232.35" y2="1653.8" stroke="#9c6822" stroke-width="3.3" />
<line x1="259.5" y1="1617.5" x2="259.5" y2="1642.5" stroke="#9c6822" stroke-width="3.3" />
<line x1="252.75" y1="1617.5" x2="266.25" y2="1617.5" stroke="#9c6822" stroke-width="3.3" />
<line x1="252.75" y1="1642.5" x2="266.25" y2="1642.5" stroke="#9c6822" stroke-width="3.3" />
<line x1="293.4" y1="1622.5" x2="293.4" y2="1649.8" stroke="#9c6822" stroke-width="3.3" />
<line x1="286.65" y1="1622.5" x2="300.15" y2="1622.5" stroke="#9c6822" stroke-width="3.3" />
<line x1="286.65" y1="1649.8" x2="300.15" y2="1649.8" stroke="#9c6822" stroke-width="3.3" />
<line x1="327.29999999999995" y1="1616.5" x2="327.29999999999995" y2="1645.8" stroke="#9c6822" stroke-width="3.3" />
<line x1="320.54999999999995" y1="1616.5" x2="334.04999999999995" y2="1616.5" stroke="#9c6822" stroke-width="3.3" />
<line x1="320.54999999999995" y1="1645.8" x2="334.04999999999995" y2="1645.8" stroke="#9c6822" stroke-width="3.3" />
<line x1="361.2" y1="1619.1" x2="361.2" y2="1649.1" stroke="#9c6822" stroke-width="3.3" />
<line x1="354.45" y1="1619.1" x2="367.95" y2="1619.1" stroke="#9c6822" stroke-width="3.3" />
<line x1="354.45" y1="1649.1" x2="367.95" y2="1649.1" stroke="#9c6822" stroke-width="3.3" />
<line x1="395.1" y1="1582.5" x2="395.1" y2="1609.8" stroke="#9c6822" stroke-width="3.3" />
<line x1="388.35" y1="1582.5" x2="401.85" y2="1582.5" stroke="#9c6822" stroke-width="3.3" />
<line x1="388.35" y1="1609.8" x2="401.85" y2="1609.8" stroke="#9c6822" stroke-width="3.3" />
<line x1="429.0" y1="1584.2" x2="429.0" y2="1624.2" stroke="#9c6822" stroke-width="3.3" />
<line x1="422.25" y1="1584.2" x2="435.75" y2="1584.2" stroke="#9c6822" stroke-width="3.3" />
<line x1="422.25" y1="1624.2" x2="435.75" y2="1624.2" stroke="#9c6822" stroke-width="3.3" />
<line x1="462.9" y1="1598.2" x2="462.9" y2="1632.5" stroke="#9c6822" stroke-width="3.3" />
<line x1="456.15" y1="1598.2" x2="469.65" y2="1598.2" stroke="#9c6822" stroke-width="3.3" />
<line x1="456.15" y1="1632.5" x2="469.65" y2="1632.5" stroke="#9c6822" stroke-width="3.3" />
<line x1="496.79999999999995" y1="1600" x2="496.79999999999995" y2="1638" stroke="#9c6822" stroke-width="3.3" />
<line x1="490.04999999999995" y1="1600" x2="503.54999999999995" y2="1600" stroke="#9c6822" stroke-width="3.3" />
<line x1="490.04999999999995" y1="1638" x2="503.54999999999995" y2="1638" stroke="#9c6822" stroke-width="3.3" />
<line x1="530.6999999999999" y1="1611.8" x2="530.6999999999999" y2="1649.2" stroke="#9c6822" stroke-width="3.3" />
<line x1="523.9499999999999" y1="1611.8" x2="537.4499999999999" y2="1611.8" stroke="#9c6822" stroke-width="3.3" />
<line x1="523.9499999999999" y1="1649.2" x2="537.4499999999999" y2="1649.2" stroke="#9c6822" stroke-width="3.3" />
<line x1="564.6" y1="1643.8" x2="564.6" y2="1664.6" stroke="#9c6822" stroke-width="3.3" />
<line x1="557.85" y1="1643.8" x2="571.35" y2="1643.8" stroke="#9c6822" stroke-width="3.3" />
<line x1="557.85" y1="1664.6" x2="571.35" y2="1664.6" stroke="#9c6822" stroke-width="3.3" />
<line x1="598.5" y1="1566.5" x2="598.5" y2="1613.7" stroke="#9c6822" stroke-width="3.3" />
<line x1="591.75" y1="1566.5" x2="605.25" y2="1566.5" stroke="#9c6822" stroke-width="3.3" />
<line x1="591.75" y1="1613.7" x2="605.25" y2="1613.7" stroke="#9c6822" stroke-width="3.3" />
<line x1="632.4" y1="1512.5" x2="632.4" y2="1574" stroke="#9c6822" stroke-width="3.3" />
<line x1="625.65" y1="1512.5" x2="639.15" y2="1512.5" stroke="#9c6822" stroke-width="3.3" />
<line x1="625.65" y1="1574" x2="639.15" y2="1574" stroke="#9c6822" stroke-width="3.3" />
<line x1="666.3" y1="1476.8" x2="666.3" y2="1547.9" stroke="#9c6822" stroke-width="3.3" />
<line x1="659.55" y1="1476.8" x2="673.05" y2="1476.8" stroke="#9c6822" stroke-width="3.3" />
<line x1="659.55" y1="1547.9" x2="673.05" y2="1547.9" stroke="#9c6822" stroke-width="3.3" />
<line x1="700.1999999999999" y1="1465.3" x2="700.1999999999999" y2="1543.1" stroke="#9c6822" stroke-width="3.3" />
<line x1="693.4499999999999" y1="1465.3" x2="706.9499999999999" y2="1465.3" stroke="#9c6822" stroke-width="3.3" />
<line x1="693.4499999999999" y1="1543.1" x2="706.9499999999999" y2="1543.1" stroke="#9c6822" stroke-width="3.3" />
<line x1="734.1" y1="1458.6" x2="734.1" y2="1543.1" stroke="#9c6822" stroke-width="3.3" />
<line x1="727.35" y1="1458.6" x2="740.85" y2="1458.6" stroke="#9c6822" stroke-width="3.3" />
<line x1="727.35" y1="1543.1" x2="740.85" y2="1543.1" stroke="#9c6822" stroke-width="3.3" />
<line x1="768.0" y1="1467.4" x2="768.0" y2="1551.9" stroke="#9c6822" stroke-width="3.3" />
<line x1="761.25" y1="1467.4" x2="774.75" y2="1467.4" stroke="#9c6822" stroke-width="3.3" />
<line x1="761.25" y1="1551.9" x2="774.75" y2="1551.9" stroke="#9c6822" stroke-width="3.3" />
<line x1="801.9" y1="1484.5" x2="801.9" y2="1567.9" stroke="#9c6822" stroke-width="3.3" />
<line x1="795.15" y1="1484.5" x2="808.65" y2="1484.5" stroke="#9c6822" stroke-width="3.3" />
<line x1="795.15" y1="1567.9" x2="808.65" y2="1567.9" stroke="#9c6822" stroke-width="3.3" />
<line x1="835.8" y1="1505.8" x2="835.8" y2="1588.4" stroke="#9c6822" stroke-width="3.3" />
<line x1="829.05" y1="1505.8" x2="842.55" y2="1505.8" stroke="#9c6822" stroke-width="3.3" />
<line x1="829.05" y1="1588.4" x2="842.55" y2="1588.4" stroke="#9c6822" stroke-width="3.3" />
<line x1="869.7" y1="1531" x2="869.7" y2="1612.6" stroke="#9c6822" stroke-width="3.3" />
<line x1="862.95" y1="1531" x2="876.45" y2="1531" stroke="#9c6822" stroke-width="3.3" />
<line x1="862.95" y1="1612.6" x2="876.45" y2="1612.6" stroke="#9c6822" stroke-width="3.3" />
<line x1="903.6" y1="1650" x2="903.6" y2="1676" stroke="#9c6822" stroke-width="3.3" />
<line x1="896.85" y1="1650" x2="910.35" y2="1650" stroke="#9c6822" stroke-width="3.3" />
<line x1="896.85" y1="1676" x2="910.35" y2="1676" stroke="#9c6822" stroke-width="3.3" />
<line x1="937.5" y1="1648.5" x2="937.5" y2="1678.1" stroke="#9c6822" stroke-width="3.3" />
<line x1="930.75" y1="1648.5" x2="944.25" y2="1648.5" stroke="#9c6822" stroke-width="3.3" />
<line x1="930.75" y1="1678.1" x2="944.25" y2="1678.1" stroke="#9c6822" stroke-width="3.3" />
<line x1="971.4" y1="1644" x2="971.4" y2="1672.2" stroke="#9c6822" stroke-width="3.3" />
<line x1="964.65" y1="1644" x2="978.15" y2="1644" stroke="#9c6822" stroke-width="3.3" />
<line x1="964.65" y1="1672.2" x2="978.15" y2="1672.2" stroke="#9c6822" stroke-width="3.3" />
<line x1="1005.3" y1="1648" x2="1005.3" y2="1672.2" stroke="#9c6822" stroke-width="3.3" />
<line x1="998.55" y1="1648" x2="1012.05" y2="1648" stroke="#9c6822" stroke-width="3.3" />
<line x1="998.55" y1="1672.2" x2="1012.05" y2="1672.2" stroke="#9c6822" stroke-width="3.3" />
<line x1="1039.1999999999998" y1="1646" x2="1039.1999999999998" y2="1667" stroke="#9c6822" stroke-width="3.3" />
<line x1="1032.4499999999998" y1="1646" x2="1045.9499999999998" y2="1646" stroke="#9c6822" stroke-width="3.3" />
<line x1="1032.4499999999998" y1="1667" x2="1045.9499999999998" y2="1667" stroke="#9c6822" stroke-width="3.3" />
<polyline points="225.6,1639.8 259.5,1629.1 293.4,1635.8 327.3,1632.1 361.2,1634.8 395.1,1594.8 429.0,1603.2 462.9,1614.8 496.8,1619.8 530.7,1625.0 564.6,1653.1 598.5,1590.5 632.4,1541.2 666.3,1511.9 700.2,1503.9 734.1,1499.9 768.0,1507.9 801.9,1525.2 835.8,1547.9 869.7,1572.4 903.6,1663.1 937.5,1663.1 971.4,1657.9 1005.3,1660.5 1039.2,1656.6" fill="none" stroke="#9c6822" stroke-width="3.7" stroke-linejoin="round"/>
<rect x="218.7" y="1632.9" width="13.8" height="13.8" fill="#9c6822"/>
<rect x="252.6" y="1622.2" width="13.8" height="13.8" fill="#9c6822"/>
<rect x="286.5" y="1628.9" width="13.8" height="13.8" fill="#9c6822"/>
<rect x="320.4" y="1625.2" width="13.8" height="13.8" fill="#9c6822"/>
<rect x="354.3" y="1627.9" width="13.8" height="13.8" fill="#9c6822"/>
<rect x="388.2" y="1587.9" width="13.8" height="13.8" fill="#9c6822"/>
<rect x="422.1" y="1596.3" width="13.8" height="13.8" fill="#9c6822"/>
<rect x="456.0" y="1607.9" width="13.8" height="13.8" fill="#9c6822"/>
<rect x="489.9" y="1612.9" width="13.8" height="13.8" fill="#9c6822"/>
<rect x="523.8" y="1618.1" width="13.8" height="13.8" fill="#9c6822"/>
<rect x="557.7" y="1646.2" width="13.8" height="13.8" fill="#9c6822"/>
<rect x="591.6" y="1583.6" width="13.8" height="13.8" fill="#9c6822"/>
<rect x="625.5" y="1534.3" width="13.8" height="13.8" fill="#9c6822"/>
<rect x="659.4" y="1505.0" width="13.8" height="13.8" fill="#9c6822"/>
<rect x="693.3" y="1497.0" width="13.8" height="13.8" fill="#9c6822"/>
<rect x="727.2" y="1493.0" width="13.8" height="13.8" fill="#9c6822"/>
<rect x="761.1" y="1501.0" width="13.8" height="13.8" fill="#9c6822"/>
<rect x="795.0" y="1518.3" width="13.8" height="13.8" fill="#9c6822"/>
<rect x="828.9" y="1541.0" width="13.8" height="13.8" fill="#9c6822"/>
<rect x="862.8" y="1565.5" width="13.8" height="13.8" fill="#9c6822"/>
<rect x="896.7" y="1656.2" width="13.8" height="13.8" fill="#9c6822"/>
<rect x="930.6" y="1656.2" width="13.8" height="13.8" fill="#9c6822"/>
<rect x="964.5" y="1651.0" width="13.8" height="13.8" fill="#9c6822"/>
<rect x="998.4" y="1653.6" width="13.8" height="13.8" fill="#9c6822"/>
<rect x="1032.3" y="1649.7" width="13.8" height="13.8" fill="#9c6822"/>
<line x1="225.6" y1="1587.2" x2="225.6" y2="1619.8" stroke="#10ea10" stroke-width="3.3" />
<line x1="218.85" y1="1587.2" x2="232.35" y2="1587.2" stroke="#10ea10" stroke-width="3.3" />
<line x1="218.85" y1="1619.8" x2="232.35" y2="1619.8" stroke="#10ea10" stroke-width="3.3" />
<line x1="259.5" y1="1567.5" x2="259.5" y2="1606.5" stroke="#10ea10" stroke-width="3.3" />
<line x1="252.75" y1="1567.5" x2="266.25" y2="1567.5" stroke="#10ea10" stroke-width="3.3" />
<line x1="252.75" y1="1606.5" x2="266.25" y2="1606.5" stroke="#10ea10" stroke-width="3.3" />
<line x1="293.4" y1="1563.9" x2="293.4" y2="1607.5" stroke="#10ea10" stroke-width="3.3" />
<line x1="286.65" y1="1563.9" x2="300.15" y2="1563.9" stroke="#10ea10" stroke-width="3.3" />
<line x1="286.65" y1="1607.5" x2="300.15" y2="1607.5" stroke="#10ea10" stroke-width="3.3" />
<line x1="327.29999999999995" y1="1564.9" x2="327.29999999999995" y2="1611.5" stroke="#10ea10" stroke-width="3.3" />
<line x1="320.54999999999995" y1="1564.9" x2="334.04999999999995" y2="1564.9" stroke="#10ea10" stroke-width="3.3" />
<line x1="320.54999999999995" y1="1611.5" x2="334.04999999999995" y2="1611.5" stroke="#10ea10" stroke-width="3.3" />
<line x1="361.2" y1="1575.5" x2="361.2" y2="1623.1" stroke="#10ea10" stroke-width="3.3" />
<line x1="354.45" y1="1575.5" x2="367.95" y2="1575.5" stroke="#10ea10" stroke-width="3.3" />
<line x1="354.45" y1="1623.1" x2="367.95" y2="1623.1" stroke="#10ea10" stroke-width="3.3" />
<line x1="395.1" y1="1570.9" x2="395.1" y2="1615.8" stroke="#10ea10" stroke-width="3.3" />
<line x1="388.35" y1="1570.9" x2="401.85" y2="1570.9" stroke="#10ea10" stroke-width="3.3" />
<line x1="388.35" y1="1615.8" x2="401.85" y2="1615.8" stroke="#10ea10" stroke-width="3.3" />
<line x1="429.0" y1="1576.5" x2="429.0" y2="1623.1" stroke="#10ea10" stroke-width="3.3" />
<line x1="422.25" y1="1576.5" x2="435.75" y2="1576.5" stroke="#10ea10" stroke-width="3.3" />
<line x1="422.25" y1="1623.1" x2="435.75" y2="1623.1" stroke="#10ea10" stroke-width="3.3" />
<line x1="462.9" y1="1588.8" x2="462.9" y2="1633.1" stroke="#10ea10" stroke-width="3.3" />
<line x1="456.15" y1="1588.8" x2="469.65" y2="1588.8" stroke="#10ea10" stroke-width="3.3" />
<line x1="456.15" y1="1633.1" x2="469.65" y2="1633.1" stroke="#10ea10" stroke-width="3.3" />
<line x1="496.79999999999995" y1="1598.8" x2="496.79999999999995" y2="1638.1" stroke="#10ea10" stroke-width="3.3" />
<line x1="490.04999999999995" y1="1598.8" x2="503.54999999999995" y2="1598.8" stroke="#10ea10" stroke-width="3.3" />
<line x1="490.04999999999995" y1="1638.1" x2="503.54999999999995" y2="1638.1" stroke="#10ea10" stroke-width="3.3" />
<line x1="530.6999999999999" y1="1609.8" x2="530.6999999999999" y2="1646.5" stroke="#10ea10" stroke-width="3.3" />
<line x1="523.9499999999999" y1="1609.8" x2="537.4499999999999" y2="1609.8" stroke="#10ea10" stroke-width="3.3" />
<line x1="523.9499999999999" y1="1646.5" x2="537.4499999999999" y2="1646.5" stroke="#10ea10" stroke-width="3.3" />
<line x1="564.6" y1="1614.5" x2="564.6" y2="1649.2" stroke="#10ea10" stroke-width="3.3" />
<line x1="557.85" y1="1614.5" x2="571.35" y2="1614.5" stroke="#10ea10" stroke-width="3.3" />
<line x1="557.85" y1="1649.2" x2="571.35" y2="1649.2" stroke="#10ea10" stroke-width="3.3" />
<line x1="598.5" y1="1563.1" x2="598.5" y2="1609.2" stroke="#10ea10" stroke-width="3.3" />
<line x1="591.75" y1="1563.1" x2="605.25" y2="1563.1" stroke="#10ea10" stroke-width="3.3" />
<line x1="591.75" y1="1609.2" x2="605.25" y2="1609.2" stroke="#10ea10" stroke-width="3.3" />
<line x1="632.4" y1="1517.3" x2="632.4" y2="1574" stroke="#10ea10" stroke-width="3.3" />
<line x1="625.65" y1="1517.3" x2="639.15" y2="1517.3" stroke="#10ea10" stroke-width="3.3" />
<line x1="625.65" y1="1574" x2="639.15" y2="1574" stroke="#10ea10" stroke-width="3.3" />
<line x1="666.3" y1="1488.5" x2="666.3" y2="1551.9" stroke="#10ea10" stroke-width="3.3" />
<line x1="659.55" y1="1488.5" x2="673.05" y2="1488.5" stroke="#10ea10" stroke-width="3.3" />
<line x1="659.55" y1="1551.9" x2="673.05" y2="1551.9" stroke="#10ea10" stroke-width="3.3" />
<line x1="700.1999999999999" y1="1478.1" x2="700.1999999999999" y2="1547.9" stroke="#10ea10" stroke-width="3.3" />
<line x1="693.4499999999999" y1="1478.1" x2="706.9499999999999" y2="1478.1" stroke="#10ea10" stroke-width="3.3" />
<line x1="693.4499999999999" y1="1547.9" x2="706.9499999999999" y2="1547.9" stroke="#10ea10" stroke-width="3.3" />
<line x1="734.1" y1="1472.8" x2="734.1" y2="1548.4" stroke="#10ea10" stroke-width="3.3" />
<line x1="727.35" y1="1472.8" x2="740.85" y2="1472.8" stroke="#10ea10" stroke-width="3.3" />
<line x1="727.35" y1="1548.4" x2="740.85" y2="1548.4" stroke="#10ea10" stroke-width="3.3" />
<line x1="768.0" y1="1480.8" x2="768.0" y2="1553.2" stroke="#10ea10" stroke-width="3.3" />
<line x1="761.25" y1="1480.8" x2="774.75" y2="1480.8" stroke="#10ea10" stroke-width="3.3" />
<line x1="761.25" y1="1553.2" x2="774.75" y2="1553.2" stroke="#10ea10" stroke-width="3.3" />
<line x1="801.9" y1="1495.9" x2="801.9" y2="1569.2" stroke="#10ea10" stroke-width="3.3" />
<line x1="795.15" y1="1495.9" x2="808.65" y2="1495.9" stroke="#10ea10" stroke-width="3.3" />
<line x1="795.15" y1="1569.2" x2="808.65" y2="1569.2" stroke="#10ea10" stroke-width="3.3" />
<line x1="835.8" y1="1507.9" x2="835.8" y2="1583.1" stroke="#10ea10" stroke-width="3.3" />
<line x1="829.05" y1="1507.9" x2="842.55" y2="1507.9" stroke="#10ea10" stroke-width="3.3" />
<line x1="829.05" y1="1583.1" x2="842.55" y2="1583.1" stroke="#10ea10" stroke-width="3.3" />
<line x1="869.7" y1="1531" x2="869.7" y2="1602.3" stroke="#10ea10" stroke-width="3.3" />
<line x1="862.95" y1="1531" x2="876.45" y2="1531" stroke="#10ea10" stroke-width="3.3" />
<line x1="862.95" y1="1602.3" x2="876.45" y2="1602.3" stroke="#10ea10" stroke-width="3.3" />
<line x1="903.6" y1="1623.5" x2="903.6" y2="1661.8" stroke="#10ea10" stroke-width="3.3" />
<line x1="896.85" y1="1623.5" x2="910.35" y2="1623.5" stroke="#10ea10" stroke-width="3.3" />
<line x1="896.85" y1="1661.8" x2="910.35" y2="1661.8" stroke="#10ea10" stroke-width="3.3" />
<line x1="937.5" y1="1626.8" x2="937.5" y2="1663.1" stroke="#10ea10" stroke-width="3.3" />
<line x1="930.75" y1="1626.8" x2="944.25" y2="1626.8" stroke="#10ea10" stroke-width="3.3" />
<line x1="930.75" y1="1663.1" x2="944.25" y2="1663.1" stroke="#10ea10" stroke-width="3.3" />
<line x1="971.4" y1="1632" x2="971.4" y2="1665.7" stroke="#10ea10" stroke-width="3.3" />
<line x1="964.65" y1="1632" x2="978.15" y2="1632" stroke="#10ea10" stroke-width="3.3" />
<line x1="964.65" y1="1665.7" x2="978.15" y2="1665.7" stroke="#10ea10" stroke-width="3.3" />
<line x1="1005.3" y1="1637.7" x2="1005.3" y2="1668.3" stroke="#10ea10" stroke-width="3.3" />
<line x1="998.55" y1="1637.7" x2="1012.05" y2="1637.7" stroke="#10ea10" stroke-width="3.3" />
<line x1="998.55" y1="1668.3" x2="1012.05" y2="1668.3" stroke="#10ea10" stroke-width="3.3" />
<line x1="1039.1999999999998" y1="1635.4" x2="1039.1999999999998" y2="1667" stroke="#10ea10" stroke-width="3.3" />
<line x1="1032.4499999999998" y1="1635.4" x2="1045.9499999999998" y2="1635.4" stroke="#10ea10" stroke-width="3.3" />
<line x1="1032.4499999999998" y1="1667" x2="1045.9499999999998" y2="1667" stroke="#10ea10" stroke-width="3.3" />
<polyline points="225.6,1604.2 259.5,1587.5 293.4,1585.8 327.3,1588.2 361.2,1598.8 395.1,1594.2 429.0,1600.5 462.9,1610.8 496.8,1618.1 530.7,1629.1 564.6,1633.2 598.5,1586.5 632.4,1545.2 666.3,1519.9 700.2,1512.7 734.1,1510.6 768.0,1517.3 801.9,1531.9 835.8,1546.6 869.7,1567.0 903.6,1642.4 937.5,1645.0 971.4,1647.6 1005.3,1652.7 1039.2,1650.2" fill="none" stroke="#10ea10" stroke-width="3.7" stroke-linejoin="round"/>
<circle cx="225.6" cy="1604.2" r="6.9" fill="#10ea10"/>
<circle cx="259.5" cy="1587.5" r="6.9" fill="#10ea10"/>
<circle cx="293.4" cy="1585.8" r="6.9" fill="#10ea10"/>
<circle cx="327.3" cy="1588.2" r="6.9" fill="#10ea10"/>
<circle cx="361.2" cy="1598.8" r="6.9" fill="#10ea10"/>
<circle cx="395.1" cy="1594.2" r="6.9" fill="#10ea10"/>
<circle cx="429.0" cy="1600.5" r="6.9" fill="#10ea10"/>
<circle cx="462.9" cy="1610.8" r="6.9" fill="#10ea10"/>
<circle cx="496.8" cy="1618.1" r="6.9" fill="#10ea10"/>
<circle cx="530.7" cy="1629.1" r="6.9" fill="#10ea10"/>
<circle cx="564.6" cy="1633.2" r="6.9" fill="#10ea10"/>
<circle cx="598.5" cy="1586.5" r="6.9" fill="#10ea10"/>
<circle cx="632.4" cy="1545.2" r="6.9" fill="#10ea10"/>
<circle cx="666.3" cy="1519.9" r="6.9" fill="#10ea10"/>
<circle cx="700.2" cy="1512.7" r="6.9" fill="#10ea10"/>
<circle cx="734.1" cy="1510.6" r="6.9" fill="#10ea10"/>
<circle cx="768.0" cy="1517.3" r="6.9" fill="#10ea10"/>
<circle cx="801.9" cy="1531.9" r="6.9" fill="#10ea10"/>
<circle cx="835.8" cy="1546.6" r="6.9" fill="#10ea10"/>
<circle cx="869.7" cy="1567.0" r="6.9" fill="#10ea10"/>
<circle cx="903.6" cy="1642.4" r="6.9" fill="#10ea10"/>
<circle cx="937.5" cy="1645.0" r="6.9" fill="#10ea10"/>
<circle cx="971.4" cy="1647.6" r="6.9" fill="#10ea10"/>
<circle cx="1005.3" cy="1652.7" r="6.9" fill="#10ea10"/>
<circle cx="1039.2" cy="1650.2" r="6.9" fill="#10ea10"/>
<line x1="376.5" y1="1395" x2="376.5" y2="1706" stroke="#000" stroke-width="3.6" stroke-dasharray="9.2 7.5"/>
<line x1="550.6" y1="1398" x2="550.6" y2="1706" stroke="#000" stroke-width="3.6" stroke-dasharray="9.2 7.5"/>
<line x1="720" y1="1394" x2="720" y2="1706" stroke="#000" stroke-width="3.6" stroke-dasharray="9.2 7.5"/>
<line x1="888" y1="1392.8" x2="888" y2="1706" stroke="#000" stroke-width="3.6" stroke-dasharray="9.2 7.5"/>
<line x1="1046.5" y1="1395" x2="1082.5" y2="1395" stroke="#10ea10" stroke-width="3.8" />
<circle cx="1064.5" cy="1395" r="6.8" fill="#10ea10"/>
<line x1="1046.5" y1="1440.3" x2="1082.5" y2="1440.3" stroke="#9c6822" stroke-width="3.8" />
<rect x="1057.5" y="1433.5" width="14" height="14" fill="#9c6822"/>
<text x="1103.5" y="1404" font-size="27.3" font-weight="normal" text-anchor="start" fill="#000" stroke="#000" stroke-width="0.3" >WT</text>
<text x="1102.5" y="1449.5" font-size="27.3" font-weight="normal" text-anchor="start" fill="#000" stroke="#000" stroke-width="0.3" >Akita</text>
</svg></body></html>
